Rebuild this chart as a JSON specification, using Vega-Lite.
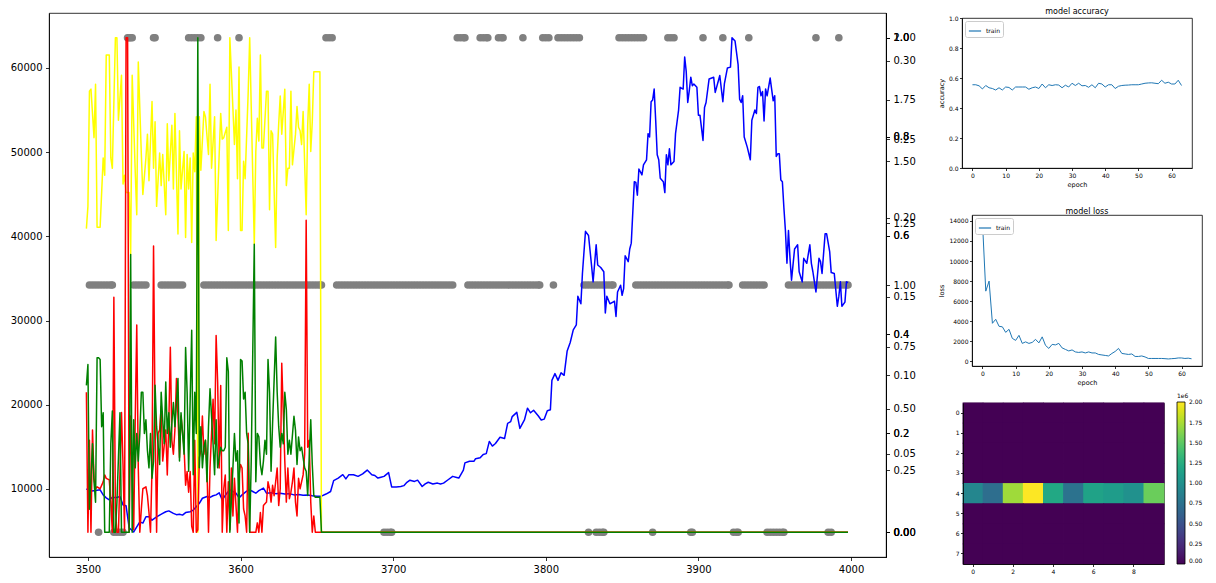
{
"$schema":"https://vega.github.io/schema/vega-lite/v6.json",
"padding":{"left":9,"top":7,"right":0,"bottom":0},
"background":"white",
"config":{
"font":"DejaVu Sans",
"view":{"stroke":"#000","strokeWidth":0.8},
"axis":{"grid":false,"labelFont":"DejaVu Sans","labelFontSize":10,"labelColor":"#000","tickColor":"#000","domainColor":"#000","tickSize":3.5,"labelPadding":3.5,"tickWidth":0.8,"domainWidth":0.8,"labelFlush":false,"labelOverlap":false,"titleFont":"DejaVu Sans","titleFontWeight":"normal","titleColor":"#000","titleFontSize":6.5},
"title":{"font":"DejaVu Sans","fontWeight":"normal","fontSize":8,"color":"#000","offset":-1},
"legend":{"labelFont":"DejaVu Sans","titleFont":"DejaVu Sans","labelColor":"#000","titleColor":"#000","titleFontWeight":"normal"}
},
"datasets":{
"price":[{"x":3499,"p":10000},{"x":3502,"p":9750},{"x":3504,"p":9800},{"x":3506,"p":9850},{"x":3508,"p":9900},{"x":3510,"p":9300},{"x":3512,"p":8950},{"x":3514,"p":8700},{"x":3516,"p":9000},{"x":3519,"p":9000},{"x":3521,"p":9100},{"x":3523,"p":8100},{"x":3525,"p":8000},{"x":3527,"p":5400},{"x":3530,"p":4900},{"x":3532,"p":5500},{"x":3534,"p":6100},{"x":3536,"p":5950},{"x":3538,"p":6700},{"x":3540,"p":6700},{"x":3542,"p":6300},{"x":3545,"p":6700},{"x":3547,"p":6900},{"x":3549,"p":7100},{"x":3551,"p":7300},{"x":3553,"p":7400},{"x":3556,"p":7100},{"x":3558,"p":6950},{"x":3560,"p":7000},{"x":3562,"p":6900},{"x":3564,"p":7200},{"x":3567,"p":7300},{"x":3569,"p":7500},{"x":3571,"p":7900},{"x":3573,"p":8300},{"x":3575,"p":8900},{"x":3578,"p":9100},{"x":3580,"p":9000},{"x":3582,"p":9200},{"x":3584,"p":9300},{"x":3586,"p":9550},{"x":3588,"p":8700},{"x":3591,"p":9500},{"x":3593,"p":9900},{"x":3595,"p":9700},{"x":3597,"p":9500},{"x":3599,"p":8950},{"x":3601,"p":9300},{"x":3604,"p":9750},{"x":3606,"p":9900},{"x":3608,"p":9700},{"x":3610,"p":9500},{"x":3612,"p":9800},{"x":3615,"p":10100},{"x":3617,"p":9500},{"x":3620,"p":9550},{"x":3623,"p":9450},{"x":3626,"p":9500},{"x":3629,"p":9400},{"x":3632,"p":9450},{"x":3635,"p":9300},{"x":3638,"p":9350},{"x":3641,"p":9250},{"x":3644,"p":9300},{"x":3647,"p":9200},{"x":3650,"p":9150},{"x":3653,"p":9150},{"x":3656,"p":9400},{"x":3659,"p":9700},{"x":3661,"p":11000},{"x":3664,"p":11300},{"x":3667,"p":11700},{"x":3669,"p":11200},{"x":3671,"p":11700},{"x":3674,"p":11700},{"x":3677,"p":11500},{"x":3680,"p":11800},{"x":3683,"p":12250},{"x":3686,"p":11700},{"x":3688,"p":11600},{"x":3690,"p":11300},{"x":3692,"p":11400},{"x":3694,"p":11500},{"x":3697,"p":11950},{"x":3699,"p":10250},{"x":3702,"p":10250},{"x":3705,"p":10300},{"x":3707,"p":10400},{"x":3709,"p":10800},{"x":3711,"p":11050},{"x":3714,"p":10900},{"x":3716,"p":11050},{"x":3719,"p":10300},{"x":3721,"p":10600},{"x":3723,"p":10800},{"x":3726,"p":10600},{"x":3729,"p":10700},{"x":3731,"p":10600},{"x":3733,"p":10700},{"x":3736,"p":11100},{"x":3739,"p":11500},{"x":3741,"p":11400},{"x":3743,"p":11300},{"x":3746,"p":12250},{"x":3747,"p":13100},{"x":3750,"p":13300},{"x":3753,"p":13300},{"x":3754,"p":13600},{"x":3757,"p":13700},{"x":3759,"p":14100},{"x":3761,"p":14200},{"x":3763,"p":15650},{"x":3765,"p":15100},{"x":3767,"p":15400},{"x":3770,"p":16150},{"x":3773,"p":16000},{"x":3775,"p":17800},{"x":3777,"p":18000},{"x":3778,"p":18600},{"x":3781,"p":19100},{"x":3783,"p":17200},{"x":3786,"p":18200},{"x":3788,"p":19600},{"x":3790,"p":19050},{"x":3792,"p":19350},{"x":3795,"p":18700},{"x":3797,"p":18200},{"x":3799,"p":18300},{"x":3801,"p":19300},{"x":3803,"p":19400},{"x":3804,"p":22900},{"x":3806,"p":23700},{"x":3808,"p":22900},{"x":3810,"p":23800},{"x":3812,"p":23500},{"x":3814,"p":26400},{"x":3816,"p":27400},{"x":3818,"p":28900},{"x":3820,"p":29500},{"x":3821,"p":32900},{"x":3823,"p":32000},{"x":3824,"p":35600},{"x":3826,"p":40600},{"x":3828,"p":40100},{"x":3830,"p":36500},{"x":3831,"p":34600},{"x":3833,"p":39000},{"x":3834,"p":36600},{"x":3836,"p":36300},{"x":3838,"p":35800},{"x":3839,"p":30900},{"x":3840,"p":32900},{"x":3842,"p":32000},{"x":3844,"p":32200},{"x":3845,"p":32300},{"x":3846,"p":30500},{"x":3847,"p":33400},{"x":3849,"p":34200},{"x":3850,"p":33000},{"x":3851,"p":33800},{"x":3852,"p":37700},{"x":3854,"p":37000},{"x":3855,"p":38500},{"x":3856,"p":39200},{"x":3858,"p":46500},{"x":3859,"p":46400},{"x":3860,"p":44900},{"x":3861,"p":48000},{"x":3863,"p":47300},{"x":3864,"p":48500},{"x":3866,"p":49100},{"x":3867,"p":52200},{"x":3868,"p":51800},{"x":3869,"p":56000},{"x":3870,"p":56200},{"x":3871,"p":57500},{"x":3872,"p":53800},{"x":3873,"p":49700},{"x":3874,"p":49100},{"x":3875,"p":46900},{"x":3877,"p":46500},{"x":3878,"p":45200},{"x":3879,"p":49700},{"x":3880,"p":48500},{"x":3881,"p":50400},{"x":3882,"p":48500},{"x":3884,"p":48900},{"x":3885,"p":52200},{"x":3887,"p":55000},{"x":3888,"p":57700},{"x":3890,"p":57500},{"x":3891,"p":61300},{"x":3892,"p":59600},{"x":3893,"p":55900},{"x":3894,"p":57300},{"x":3895,"p":58900},{"x":3896,"p":57900},{"x":3897,"p":58100},{"x":3899,"p":57700},{"x":3900,"p":54400},{"x":3901,"p":54400},{"x":3903,"p":51400},{"x":3904,"p":55300},{"x":3905,"p":55900},{"x":3907,"p":58700},{"x":3910,"p":58900},{"x":3911,"p":57100},{"x":3914,"p":59100},{"x":3916,"p":56000},{"x":3917,"p":58100},{"x":3919,"p":60000},{"x":3921,"p":60100},{"x":3922,"p":63600},{"x":3924,"p":63200},{"x":3926,"p":60400},{"x":3927,"p":56300},{"x":3928,"p":55900},{"x":3929,"p":56700},{"x":3930,"p":51800},{"x":3932,"p":50600},{"x":3934,"p":49100},{"x":3935,"p":53800},{"x":3937,"p":55000},{"x":3938,"p":54600},{"x":3939,"p":57700},{"x":3940,"p":57800},{"x":3941,"p":56700},{"x":3942,"p":57200},{"x":3943,"p":53700},{"x":3944,"p":57500},{"x":3945,"p":56700},{"x":3947,"p":58800},{"x":3949,"p":56100},{"x":3950,"p":56700},{"x":3951,"p":49500},{"x":3952,"p":49800},{"x":3953,"p":49800},{"x":3954,"p":46700},{"x":3955,"p":46500},{"x":3956,"p":43400},{"x":3957,"p":40700},{"x":3958,"p":36800},{"x":3959,"p":40700},{"x":3960,"p":37400},{"x":3961,"p":34800},{"x":3963,"p":38500},{"x":3965,"p":39000},{"x":3966,"p":35800},{"x":3968,"p":34600},{"x":3969,"p":37400},{"x":3971,"p":36800},{"x":3973,"p":39000},{"x":3974,"p":36800},{"x":3975,"p":35800},{"x":3976,"p":34600},{"x":3977,"p":33400},{"x":3979,"p":37400},{"x":3980,"p":37000},{"x":3981,"p":35600},{"x":3983,"p":40300},{"x":3984,"p":40300},{"x":3986,"p":38200},{"x":3987,"p":35700},{"x":3989,"p":35600},{"x":3991,"p":31700},{"x":3992,"p":32900},{"x":3993,"p":34600},{"x":3994,"p":31700},{"x":3996,"p":32200},{"x":3997,"p":34600},{"x":3998,"p":34500}],
"yel":[{"x":3499,"v":0.614},{"x":3500,"v":0.659},{"x":3501,"v":0.892},{"x":3502,"v":0.896},{"x":3504,"v":0.798},{"x":3505,"v":0.906},{"x":3506,"v":0.617},{"x":3508,"v":0.617},{"x":3510,"v":0.757},{"x":3511,"v":0.722},{"x":3512,"v":0.965},{"x":3514,"v":0.965},{"x":3515,"v":0.757},{"x":3516,"v":0.736},{"x":3518,"v":1.0},{"x":3519,"v":1.0},{"x":3520,"v":0.833},{"x":3522,"v":0.924},{"x":3523,"v":0.704},{"x":3524,"v":0.722},{"x":3525,"v":0.687},{"x":3527,"v":0.687},{"x":3528,"v":0.562},{"x":3529,"v":0.924},{"x":3531,"v":0.729},{"x":3532,"v":0.642},{"x":3533,"v":0.951},{"x":3535,"v":0.764},{"x":3536,"v":0.683},{"x":3538,"v":0.757},{"x":3539,"v":0.805},{"x":3540,"v":0.711},{"x":3542,"v":0.871},{"x":3543,"v":0.736},{"x":3544,"v":0.83},{"x":3545,"v":0.659},{"x":3547,"v":0.767},{"x":3548,"v":0.701},{"x":3549,"v":0.764},{"x":3551,"v":0.642},{"x":3552,"v":0.826},{"x":3553,"v":0.711},{"x":3555,"v":0.823},{"x":3556,"v":0.694},{"x":3557,"v":0.847},{"x":3559,"v":0.603},{"x":3560,"v":0.812},{"x":3561,"v":0.694},{"x":3563,"v":0.77},{"x":3564,"v":0.596},{"x":3565,"v":0.764},{"x":3566,"v":0.694},{"x":3567,"v":0.757},{"x":3568,"v":0.586},{"x":3569,"v":0.767},{"x":3570,"v":0.729},{"x":3571,"v":0.84},{"x":3572,"v":0},{"x":3573,"v":0.84},{"x":3574,"v":0.732},{"x":3576,"v":0.851},{"x":3577,"v":0.84},{"x":3579,"v":0.764},{"x":3580,"v":0.906},{"x":3581,"v":0.736},{"x":3583,"v":0.84},{"x":3584,"v":0.59},{"x":3586,"v":0.764},{"x":3587,"v":0.847},{"x":3588,"v":0.795},{"x":3589,"v":0.798},{"x":3591,"v":0.819},{"x":3592,"v":0.61},{"x":3593,"v":1.0},{"x":3595,"v":0.857},{"x":3596,"v":0.784},{"x":3597,"v":0.854},{"x":3598,"v":0.715},{"x":3599,"v":0.941},{"x":3600,"v":0.61},{"x":3601,"v":0.61},{"x":3602,"v":0.75},{"x":3603,"v":0.715},{"x":3605,"v":0.889},{"x":3606,"v":1.0},{"x":3607,"v":0.861},{"x":3609,"v":0.583},{"x":3610,"v":0.77},{"x":3611,"v":0.837},{"x":3612,"v":0.791},{"x":3613,"v":0.965},{"x":3614,"v":0.777},{"x":3615,"v":0.777},{"x":3617,"v":0.892},{"x":3618,"v":0.892},{"x":3619,"v":0.652},{"x":3620,"v":0.812},{"x":3621,"v":0.805},{"x":3623,"v":0.576},{"x":3624,"v":0.757},{"x":3625,"v":0.826},{"x":3626,"v":0.882},{"x":3627,"v":0.805},{"x":3629,"v":0.896},{"x":3630,"v":0.701},{"x":3631,"v":0.736},{"x":3632,"v":0.736},{"x":3633,"v":0.892},{"x":3634,"v":0.743},{"x":3636,"v":0.805},{"x":3637,"v":0.861},{"x":3638,"v":0.819},{"x":3639,"v":0.812},{"x":3640,"v":0.784},{"x":3641,"v":0.851},{"x":3643,"v":0.642},{"x":3644,"v":0.823},{"x":3645,"v":0.906},{"x":3646,"v":0.77},{"x":3647,"v":0.83},{"x":3648,"v":0.931},{"x":3649,"v":0.931},{"x":3650,"v":0.931},{"x":3651,"v":0.931},{"x":3652,"v":0.931},{"x":3653,"v":0},{"x":3998,"v":0}],
"red":[{"x":3499,"v":0.283},{"x":3500,"v":0},{"x":3501,"v":0.186},{"x":3502,"v":0},{"x":3503,"v":0.207},{"x":3504,"v":0.109},{"x":3505,"v":0.088},{"x":3506,"v":0.092},{"x":3508,"v":0.088},{"x":3510,"v":0.102},{"x":3511,"v":0.116},{"x":3512,"v":0.109},{"x":3514,"v":0.106},{"x":3515,"v":0.061},{"x":3516,"v":0},{"x":3517,"v":0.475},{"x":3518,"v":0.047},{"x":3519,"v":0},{"x":3520,"v":0},{"x":3522,"v":0.242},{"x":3523,"v":0.137},{"x":3524,"v":0},{"x":3525,"v":1.0},{"x":3526,"v":1.0},{"x":3527,"v":0},{"x":3528,"v":0.235},{"x":3530,"v":0.005},{"x":3531,"v":0.228},{"x":3532,"v":0.419},{"x":3533,"v":0.13},{"x":3534,"v":0},{"x":3535,"v":0.047},{"x":3536,"v":0.088},{"x":3538,"v":0.092},{"x":3539,"v":0.074},{"x":3540,"v":0.04},{"x":3541,"v":0},{"x":3542,"v":0.13},{"x":3543,"v":0.579},{"x":3544,"v":0.228},{"x":3545,"v":0},{"x":3546,"v":0.2},{"x":3547,"v":0.207},{"x":3548,"v":0.255},{"x":3549,"v":0.144},{"x":3551,"v":0.207},{"x":3552,"v":0.116},{"x":3553,"v":0.221},{"x":3554,"v":0.374},{"x":3555,"v":0.186},{"x":3556,"v":0.158},{"x":3557,"v":0.207},{"x":3558,"v":0.311},{"x":3559,"v":0.235},{"x":3560,"v":0.151},{"x":3561,"v":0.235},{"x":3563,"v":0.172},{"x":3564,"v":0.095},{"x":3565,"v":0.123},{"x":3566,"v":0.081},{"x":3567,"v":0.123},{"x":3568,"v":0.012},{"x":3569,"v":0},{"x":3570,"v":0.186},{"x":3571,"v":0},{"x":3572,"v":0.005},{"x":3573,"v":0.151},{"x":3574,"v":0.165},{"x":3575,"v":0.235},{"x":3576,"v":0.158},{"x":3577,"v":0.186},{"x":3578,"v":0.13},{"x":3579,"v":0},{"x":3580,"v":0.13},{"x":3582,"v":0.269},{"x":3583,"v":0.179},{"x":3584,"v":0.398},{"x":3585,"v":0.304},{"x":3586,"v":0.13},{"x":3587,"v":0.297},{"x":3588,"v":0},{"x":3589,"v":0.088},{"x":3590,"v":0.116},{"x":3591,"v":0},{"x":3592,"v":0.102},{"x":3593,"v":0.005},{"x":3594,"v":0.13},{"x":3595,"v":0.033},{"x":3596,"v":0.109},{"x":3598,"v":0},{"x":3599,"v":0.116},{"x":3600,"v":0.137},{"x":3601,"v":0.13},{"x":3602,"v":0.047},{"x":3603,"v":0.033},{"x":3604,"v":0},{"x":3605,"v":0.2},{"x":3606,"v":0},{"x":3607,"v":0},{"x":3609,"v":0},{"x":3610,"v":0},{"x":3611,"v":0.019},{"x":3612,"v":0},{"x":3613,"v":0.04},{"x":3614,"v":0},{"x":3615,"v":0.054},{"x":3617,"v":0.061},{"x":3618,"v":0.102},{"x":3619,"v":0.088},{"x":3620,"v":0.061},{"x":3621,"v":0.095},{"x":3622,"v":0.074},{"x":3623,"v":0.102},{"x":3624,"v":0.13},{"x":3625,"v":0.054},{"x":3626,"v":0.088},{"x":3627,"v":0.342},{"x":3629,"v":0.144},{"x":3630,"v":0.061},{"x":3631,"v":0.13},{"x":3632,"v":0.068},{"x":3633,"v":0.081},{"x":3634,"v":0.102},{"x":3635,"v":0.13},{"x":3636,"v":0.061},{"x":3637,"v":0.033},{"x":3638,"v":0.109},{"x":3639,"v":0.088},{"x":3641,"v":0.116},{"x":3642,"v":0.158},{"x":3643,"v":0.631},{"x":3644,"v":0.172},{"x":3645,"v":0.186},{"x":3646,"v":0.061},{"x":3647,"v":0},{"x":3648,"v":0.033},{"x":3649,"v":0},{"x":3998,"v":0}],
"grn":[{"x":3499,"v":0.0935},{"x":3500,"v":0.1067},{"x":3501,"v":0.0147},{"x":3502,"v":0.0344},{"x":3503,"v":0.0563},{"x":3504,"v":0.0322},{"x":3505,"v":0.0191},{"x":3506,"v":0.111},{"x":3507,"v":0.111},{"x":3508,"v":0.11},{"x":3509,"v":0.0672},{"x":3510,"v":0.076},{"x":3511,"v":0},{"x":3513,"v":0},{"x":3514,"v":0},{"x":3515,"v":0.0563},{"x":3516,"v":0.0771},{"x":3517,"v":0},{"x":3518,"v":0},{"x":3519,"v":0.0191},{"x":3520,"v":0.0475},{"x":3521,"v":0.076},{"x":3522,"v":0},{"x":3524,"v":0},{"x":3525,"v":0},{"x":3526,"v":0},{"x":3527,"v":0},{"x":3528,"v":0.1767},{"x":3529,"v":0},{"x":3530,"v":0.0716},{"x":3531,"v":0.041},{"x":3532,"v":0.0629},{"x":3533,"v":0.0453},{"x":3534,"v":0.0629},{"x":3535,"v":0.0891},{"x":3536,"v":0.0891},{"x":3537,"v":0.0629},{"x":3538,"v":0.0716},{"x":3539,"v":0.0519},{"x":3540,"v":0.041},{"x":3541,"v":0.0629},{"x":3542,"v":0.0344},{"x":3543,"v":0.0453},{"x":3544,"v":0.0935},{"x":3545,"v":0.0672},{"x":3547,"v":0.0431},{"x":3548,"v":0.0891},{"x":3549,"v":0.0716},{"x":3550,"v":0.0563},{"x":3551,"v":0.0957},{"x":3552,"v":0.0629},{"x":3553,"v":0.076},{"x":3554,"v":0.0541},{"x":3555,"v":0.0694},{"x":3556,"v":0.0826},{"x":3557,"v":0.0672},{"x":3559,"v":0.0979},{"x":3560,"v":0.0453},{"x":3561,"v":0.076},{"x":3562,"v":0.0629},{"x":3563,"v":0.0497},{"x":3564,"v":0.1176},{"x":3565,"v":0.0891},{"x":3566,"v":0.0388},{"x":3567,"v":0.0848},{"x":3568,"v":0.1286},{"x":3569,"v":0.0366},{"x":3570,"v":0.0891},{"x":3571,"v":0.0629},{"x":3572,"v":0.3147},{"x":3573,"v":0.041},{"x":3574,"v":0.0672},{"x":3575,"v":0.041},{"x":3576,"v":0.0541},{"x":3577,"v":0.0585},{"x":3578,"v":0.0322},{"x":3579,"v":0.0672},{"x":3580,"v":0.0913},{"x":3582,"v":0.0563},{"x":3583,"v":0.0366},{"x":3584,"v":0.0716},{"x":3585,"v":0.041},{"x":3586,"v":0.0475},{"x":3587,"v":0.0541},{"x":3588,"v":0.0519},{"x":3589,"v":0.0519},{"x":3590,"v":0.0541},{"x":3591,"v":0.111},{"x":3592,"v":0.1023},{"x":3593,"v":0},{"x":3595,"v":0.041},{"x":3596,"v":0.0629},{"x":3597,"v":0.0453},{"x":3598,"v":0.0519},{"x":3599,"v":0.0059},{"x":3600,"v":0.11},{"x":3601,"v":0.109},{"x":3602,"v":0.0848},{"x":3603,"v":0.0891},{"x":3604,"v":0.0629},{"x":3605,"v":0.0563},{"x":3606,"v":0},{"x":3607,"v":0.0453},{"x":3609,"v":0.1833},{"x":3610,"v":0.0322},{"x":3611,"v":0.0629},{"x":3612,"v":0.0607},{"x":3613,"v":0.0431},{"x":3614,"v":0.0366},{"x":3615,"v":0.0453},{"x":3616,"v":0.0585},{"x":3617,"v":0.0497},{"x":3618,"v":0.11},{"x":3619,"v":0.0891},{"x":3620,"v":0.0388},{"x":3621,"v":0.0694},{"x":3623,"v":0.1242},{"x":3624,"v":0.0891},{"x":3625,"v":0.0672},{"x":3626,"v":0.0541},{"x":3627,"v":0.0629},{"x":3628,"v":0.0563},{"x":3629,"v":0.0891},{"x":3630,"v":0.0782},{"x":3631,"v":0.0497},{"x":3632,"v":0.0585},{"x":3633,"v":0.0497},{"x":3635,"v":0.0738},{"x":3636,"v":0.065},{"x":3637,"v":0.0431},{"x":3638,"v":0.0607},{"x":3639,"v":0.0519},{"x":3640,"v":0.0541},{"x":3641,"v":0.0475},{"x":3642,"v":0.041},{"x":3643,"v":0.0388},{"x":3644,"v":0.0234},{"x":3646,"v":0.0716},{"x":3647,"v":0.0431},{"x":3648,"v":0.0234},{"x":3649,"v":0.0223},{"x":3650,"v":0.0223},{"x":3651,"v":0.0223},{"x":3652,"v":0.0223},{"x":3653,"v":0},{"x":3998,"v":0}],
"act":[{"x":3526,"a":2},{"x":3527,"a":2},{"x":3528,"a":2},{"x":3529,"a":2},{"x":3543,"a":2},{"x":3544,"a":2},{"x":3566,"a":2},{"x":3568,"a":2},{"x":3570,"a":2},{"x":3572,"a":2},{"x":3574,"a":2},{"x":3585,"a":2},{"x":3599,"a":2},{"x":3656,"a":2},{"x":3658,"a":2},{"x":3660,"a":2},{"x":3742,"a":2},{"x":3744,"a":2},{"x":3746,"a":2},{"x":3747,"a":2},{"x":3757,"a":2},{"x":3759,"a":2},{"x":3761,"a":2},{"x":3762,"a":2},{"x":3769,"a":2},{"x":3771,"a":2},{"x":3772,"a":2},{"x":3785,"a":2},{"x":3798,"a":2},{"x":3800,"a":2},{"x":3802,"a":2},{"x":3808,"a":2},{"x":3810,"a":2},{"x":3812,"a":2},{"x":3814,"a":2},{"x":3816,"a":2},{"x":3818,"a":2},{"x":3820,"a":2},{"x":3822,"a":2},{"x":3848,"a":2},{"x":3850,"a":2},{"x":3852,"a":2},{"x":3854,"a":2},{"x":3856,"a":2},{"x":3858,"a":2},{"x":3860,"a":2},{"x":3862,"a":2},{"x":3864,"a":2},{"x":3880,"a":2},{"x":3882,"a":2},{"x":3884,"a":2},{"x":3903,"a":2},{"x":3916,"a":2},{"x":3933,"a":2},{"x":3977,"a":2},{"x":3992,"a":2},
{"x":3507,"a":0},{"x":3517,"a":0},{"x":3519,"a":0},{"x":3521,"a":0},{"x":3523,"a":0},{"x":3694,"a":0},{"x":3696,"a":0},{"x":3698,"a":0},{"x":3699,"a":0},{"x":3828,"a":0},{"x":3833,"a":0},{"x":3835,"a":0},{"x":3837,"a":0},{"x":3838,"a":0},{"x":3870,"a":0},{"x":3895,"a":0},{"x":3896,"a":0},{"x":3923,"a":0},{"x":3925,"a":0},{"x":3926,"a":0},{"x":3945,"a":0},{"x":3947,"a":0},{"x":3949,"a":0},{"x":3951,"a":0},{"x":3953,"a":0},{"x":3955,"a":0},{"x":3956,"a":0},{"x":3985,"a":0},{"x":3987,"a":0},
{"x":3501,"a":1},{"x":3503,"a":1},{"x":3505,"a":1},{"x":3507,"a":1},{"x":3509,"a":1},{"x":3511,"a":1},{"x":3513,"a":1},{"x":3515,"a":1},{"x":3516,"a":1},{"x":3530,"a":1},{"x":3532,"a":1},{"x":3534,"a":1},{"x":3536,"a":1},{"x":3538,"a":1},{"x":3548,"a":1},{"x":3550,"a":1},{"x":3552,"a":1},{"x":3554,"a":1},{"x":3556,"a":1},{"x":3558,"a":1},{"x":3560,"a":1},{"x":3562,"a":1},{"x":3576,"a":1},{"x":3578,"a":1},{"x":3580,"a":1},{"x":3582,"a":1},{"x":3584,"a":1},{"x":3586,"a":1},{"x":3588,"a":1},{"x":3590,"a":1},{"x":3592,"a":1},{"x":3594,"a":1},{"x":3596,"a":1},{"x":3598,"a":1},{"x":3600,"a":1},{"x":3602,"a":1},{"x":3604,"a":1},{"x":3606,"a":1},{"x":3608,"a":1},{"x":3610,"a":1},{"x":3612,"a":1},{"x":3614,"a":1},{"x":3616,"a":1},{"x":3618,"a":1},{"x":3620,"a":1},{"x":3622,"a":1},{"x":3624,"a":1},{"x":3626,"a":1},{"x":3628,"a":1},{"x":3630,"a":1},{"x":3632,"a":1},{"x":3634,"a":1},{"x":3636,"a":1},{"x":3638,"a":1},{"x":3640,"a":1},{"x":3642,"a":1},{"x":3644,"a":1},{"x":3646,"a":1},{"x":3648,"a":1},{"x":3650,"a":1},{"x":3652,"a":1},{"x":3653,"a":1},{"x":3663,"a":1},{"x":3665,"a":1},{"x":3667,"a":1},{"x":3669,"a":1},{"x":3671,"a":1},{"x":3673,"a":1},{"x":3675,"a":1},{"x":3677,"a":1},{"x":3679,"a":1},{"x":3681,"a":1},{"x":3683,"a":1},{"x":3685,"a":1},{"x":3687,"a":1},{"x":3689,"a":1},{"x":3691,"a":1},{"x":3693,"a":1},{"x":3695,"a":1},{"x":3697,"a":1},{"x":3699,"a":1},{"x":3701,"a":1},{"x":3703,"a":1},{"x":3705,"a":1},{"x":3707,"a":1},{"x":3709,"a":1},{"x":3711,"a":1},{"x":3713,"a":1},{"x":3715,"a":1},{"x":3717,"a":1},{"x":3719,"a":1},{"x":3721,"a":1},{"x":3723,"a":1},{"x":3725,"a":1},{"x":3727,"a":1},{"x":3729,"a":1},{"x":3731,"a":1},{"x":3733,"a":1},{"x":3735,"a":1},{"x":3737,"a":1},{"x":3739,"a":1},{"x":3749,"a":1},{"x":3751,"a":1},{"x":3753,"a":1},{"x":3755,"a":1},{"x":3757,"a":1},{"x":3759,"a":1},{"x":3761,"a":1},{"x":3763,"a":1},{"x":3765,"a":1},{"x":3767,"a":1},{"x":3769,"a":1},{"x":3771,"a":1},{"x":3773,"a":1},{"x":3775,"a":1},{"x":3777,"a":1},{"x":3779,"a":1},{"x":3781,"a":1},{"x":3783,"a":1},{"x":3785,"a":1},{"x":3787,"a":1},{"x":3789,"a":1},{"x":3791,"a":1},{"x":3793,"a":1},{"x":3795,"a":1},{"x":3796,"a":1},{"x":3805,"a":1},{"x":3825,"a":1},{"x":3827,"a":1},{"x":3829,"a":1},{"x":3831,"a":1},{"x":3833,"a":1},{"x":3835,"a":1},{"x":3837,"a":1},{"x":3839,"a":1},{"x":3841,"a":1},{"x":3843,"a":1},{"x":3844,"a":1},{"x":3859,"a":1},{"x":3861,"a":1},{"x":3863,"a":1},{"x":3865,"a":1},{"x":3867,"a":1},{"x":3869,"a":1},{"x":3871,"a":1},{"x":3873,"a":1},{"x":3875,"a":1},{"x":3877,"a":1},{"x":3879,"a":1},{"x":3881,"a":1},{"x":3883,"a":1},{"x":3885,"a":1},{"x":3887,"a":1},{"x":3889,"a":1},{"x":3891,"a":1},{"x":3893,"a":1},{"x":3895,"a":1},{"x":3897,"a":1},{"x":3899,"a":1},{"x":3901,"a":1},{"x":3903,"a":1},{"x":3905,"a":1},{"x":3907,"a":1},{"x":3909,"a":1},{"x":3911,"a":1},{"x":3913,"a":1},{"x":3915,"a":1},{"x":3917,"a":1},{"x":3919,"a":1},{"x":3920,"a":1},{"x":3929,"a":1},{"x":3931,"a":1},{"x":3933,"a":1},{"x":3935,"a":1},{"x":3937,"a":1},{"x":3939,"a":1},{"x":3941,"a":1},{"x":3943,"a":1},{"x":3959,"a":1},{"x":3961,"a":1},{"x":3963,"a":1},{"x":3965,"a":1},{"x":3967,"a":1},{"x":3969,"a":1},{"x":3971,"a":1},{"x":3973,"a":1},{"x":3975,"a":1},{"x":3977,"a":1},{"x":3979,"a":1},{"x":3981,"a":1},{"x":3983,"a":1},{"x":3985,"a":1},{"x":3987,"a":1},{"x":3989,"a":1},{"x":3991,"a":1},{"x":3993,"a":1},{"x":3995,"a":1},{"x":3997,"a":1},{"x":3998,"a":1}],
"acc":[{"epoch":0,"accuracy":0.555},{"epoch":1,"accuracy":0.555},{"epoch":2,"accuracy":0.548},{"epoch":3,"accuracy":0.527},{"epoch":4,"accuracy":0.55},{"epoch":5,"accuracy":0.535},{"epoch":6,"accuracy":0.53},{"epoch":7,"accuracy":0.52},{"epoch":8,"accuracy":0.535},{"epoch":9,"accuracy":0.52},{"epoch":10,"accuracy":0.54},{"epoch":11,"accuracy":0.537},{"epoch":12,"accuracy":0.52},{"epoch":13,"accuracy":0.54},{"epoch":14,"accuracy":0.54},{"epoch":15,"accuracy":0.54},{"epoch":16,"accuracy":0.54},{"epoch":17,"accuracy":0.525},{"epoch":18,"accuracy":0.535},{"epoch":19,"accuracy":0.54},{"epoch":20,"accuracy":0.53},{"epoch":21,"accuracy":0.56},{"epoch":22,"accuracy":0.535},{"epoch":23,"accuracy":0.555},{"epoch":24,"accuracy":0.55},{"epoch":25,"accuracy":0.555},{"epoch":26,"accuracy":0.553},{"epoch":27,"accuracy":0.535},{"epoch":28,"accuracy":0.552},{"epoch":29,"accuracy":0.54},{"epoch":30,"accuracy":0.565},{"epoch":31,"accuracy":0.55},{"epoch":32,"accuracy":0.565},{"epoch":33,"accuracy":0.548},{"epoch":34,"accuracy":0.55},{"epoch":35,"accuracy":0.538},{"epoch":36,"accuracy":0.555},{"epoch":37,"accuracy":0.535},{"epoch":38,"accuracy":0.565},{"epoch":39,"accuracy":0.56},{"epoch":40,"accuracy":0.54},{"epoch":41,"accuracy":0.555},{"epoch":42,"accuracy":0.555},{"epoch":43,"accuracy":0.53},{"epoch":44,"accuracy":0.545},{"epoch":45,"accuracy":0.55},{"epoch":46,"accuracy":0.552},{"epoch":47,"accuracy":0.553},{"epoch":48,"accuracy":0.555},{"epoch":49,"accuracy":0.555},{"epoch":50,"accuracy":0.555},{"epoch":51,"accuracy":0.56},{"epoch":52,"accuracy":0.565},{"epoch":53,"accuracy":0.567},{"epoch":54,"accuracy":0.568},{"epoch":55,"accuracy":0.565},{"epoch":56,"accuracy":0.562},{"epoch":57,"accuracy":0.585},{"epoch":58,"accuracy":0.565},{"epoch":59,"accuracy":0.572},{"epoch":60,"accuracy":0.56},{"epoch":61,"accuracy":0.56},{"epoch":62,"accuracy":0.585},{"epoch":63,"accuracy":0.55}],
"loss":[{"epoch":0,"loss":13900},{"epoch":1,"loss":7000},{"epoch":2,"loss":8000},{"epoch":3,"loss":3800},{"epoch":4,"loss":4200},{"epoch":5,"loss":3500},{"epoch":6,"loss":3450},{"epoch":7,"loss":2900},{"epoch":8,"loss":3200},{"epoch":9,"loss":2300},{"epoch":10,"loss":2100},{"epoch":11,"loss":2600},{"epoch":12,"loss":1800},{"epoch":13,"loss":1950},{"epoch":14,"loss":1800},{"epoch":15,"loss":1900},{"epoch":16,"loss":2200},{"epoch":17,"loss":1850},{"epoch":18,"loss":2450},{"epoch":19,"loss":1600},{"epoch":20,"loss":1300},{"epoch":21,"loss":1700},{"epoch":22,"loss":1650},{"epoch":23,"loss":1800},{"epoch":24,"loss":1350},{"epoch":25,"loss":1200},{"epoch":26,"loss":1050},{"epoch":27,"loss":1150},{"epoch":28,"loss":950},{"epoch":29,"loss":900},{"epoch":30,"loss":950},{"epoch":31,"loss":850},{"epoch":32,"loss":950},{"epoch":33,"loss":850},{"epoch":34,"loss":850},{"epoch":35,"loss":700},{"epoch":36,"loss":650},{"epoch":37,"loss":600},{"epoch":38,"loss":550},{"epoch":39,"loss":800},{"epoch":40,"loss":1000},{"epoch":41,"loss":1300},{"epoch":42,"loss":800},{"epoch":43,"loss":750},{"epoch":44,"loss":700},{"epoch":45,"loss":750},{"epoch":46,"loss":500},{"epoch":47,"loss":500},{"epoch":48,"loss":550},{"epoch":49,"loss":450},{"epoch":50,"loss":300},{"epoch":51,"loss":300},{"epoch":52,"loss":300},{"epoch":53,"loss":300},{"epoch":54,"loss":300},{"epoch":55,"loss":280},{"epoch":56,"loss":250},{"epoch":57,"loss":280},{"epoch":58,"loss":300},{"epoch":59,"loss":350},{"epoch":60,"loss":350},{"epoch":61,"loss":300},{"epoch":62,"loss":330},{"epoch":63,"loss":270}],
"heat":[{"r":0,"c":0,"v":0},{"r":0,"c":1,"v":0},{"r":0,"c":2,"v":0},{"r":0,"c":3,"v":0},{"r":0,"c":4,"v":0},{"r":0,"c":5,"v":0},{"r":0,"c":6,"v":0},{"r":0,"c":7,"v":0},{"r":0,"c":8,"v":0},{"r":0,"c":9,"v":0},{"r":1,"c":0,"v":0},{"r":1,"c":1,"v":0},{"r":1,"c":2,"v":0},{"r":1,"c":3,"v":0},{"r":1,"c":4,"v":0},{"r":1,"c":5,"v":0},{"r":1,"c":6,"v":0},{"r":1,"c":7,"v":0},{"r":1,"c":8,"v":0},{"r":1,"c":9,"v":0},{"r":2,"c":0,"v":0},{"r":2,"c":1,"v":0},{"r":2,"c":2,"v":0},{"r":2,"c":3,"v":0},{"r":2,"c":4,"v":0},{"r":2,"c":5,"v":0},{"r":2,"c":6,"v":0},{"r":2,"c":7,"v":0},{"r":2,"c":8,"v":0},{"r":2,"c":9,"v":0},{"r":3,"c":0,"v":0},{"r":3,"c":1,"v":0},{"r":3,"c":2,"v":0},{"r":3,"c":3,"v":0},{"r":3,"c":4,"v":0},{"r":3,"c":5,"v":0},{"r":3,"c":6,"v":0},{"r":3,"c":7,"v":0},{"r":3,"c":8,"v":0},{"r":3,"c":9,"v":0},{"r":4,"c":0,"v":920000},{"r":4,"c":1,"v":720000},{"r":4,"c":2,"v":1720000},{"r":4,"c":3,"v":2000000},{"r":4,"c":4,"v":1200000},{"r":4,"c":5,"v":750000},{"r":4,"c":6,"v":1150000},{"r":4,"c":7,"v":1100000},{"r":4,"c":8,"v":1000000},{"r":4,"c":9,"v":1550000},{"r":5,"c":0,"v":0},{"r":5,"c":1,"v":0},{"r":5,"c":2,"v":0},{"r":5,"c":3,"v":0},{"r":5,"c":4,"v":0},{"r":5,"c":5,"v":0},{"r":5,"c":6,"v":0},{"r":5,"c":7,"v":0},{"r":5,"c":8,"v":0},{"r":5,"c":9,"v":0},{"r":6,"c":0,"v":0},{"r":6,"c":1,"v":0},{"r":6,"c":2,"v":0},{"r":6,"c":3,"v":0},{"r":6,"c":4,"v":0},{"r":6,"c":5,"v":0},{"r":6,"c":6,"v":0},{"r":6,"c":7,"v":0},{"r":6,"c":8,"v":0},{"r":6,"c":9,"v":0},{"r":7,"c":0,"v":0},{"r":7,"c":1,"v":0},{"r":7,"c":2,"v":0},{"r":7,"c":3,"v":0},{"r":7,"c":4,"v":0},{"r":7,"c":5,"v":0},{"r":7,"c":6,"v":0},{"r":7,"c":7,"v":0},{"r":7,"c":8,"v":0},{"r":7,"c":9,"v":0}],
"blank":[{"k":0}]
},
"spacing":20,
"resolve":{"scale":{"color":"independent"},"legend":{"color":"independent"}},
"hconcat":[
{
"width":837,"height":544,
"layer":[
{"data":{"name":"act"},"mark":{"type":"circle","size":58,"color":"#808080","opacity":1},
"encoding":{"x":{"field":"x","type":"quantitative","scale":{"domain":[3474.5,4022.9],"nice":false,"zero":false},"axis":{"values":[3500,3600,3700,3800,3900,4000],"format":"d","title":null}},
"y":{"field":"a","type":"quantitative","scale":{"domain":[-0.1,2.1],"nice":false,"zero":false},"axis":{"orient":"right","values":[0,0.25,0.5,0.75,1,1.25,1.5,1.75,2],"format":".2f","title":null}}}},
{"data":{"name":"price"},"mark":{"type":"line","color":"#0000ff","strokeWidth":1.5,"strokeJoin":"round"},
"encoding":{"x":{"field":"x","type":"quantitative","scale":{"domain":[3474.5,4022.9],"nice":false,"zero":false},"axis":{"values":[3500,3600,3700,3800,3900,4000],"format":"d","title":null}},
"y":{"field":"p","type":"quantitative","scale":{"domain":[1924,66530],"nice":false,"zero":false},"axis":{"orient":"left","values":[10000,20000,30000,40000,50000,60000],"format":"d","title":null}}}},
{"data":{"name":"yel"},"mark":{"type":"line","color":"#ffff00","strokeWidth":1.5,"strokeJoin":"round"},
"encoding":{"x":{"field":"x","type":"quantitative","scale":{"domain":[3474.5,4022.9],"nice":false,"zero":false},"axis":{"values":[3500,3600,3700,3800,3900,4000],"format":"d","title":null}},
"y":{"field":"v","type":"quantitative","scale":{"domain":[-0.05,1.05],"nice":false,"zero":false},"axis":{"orient":"right","values":[0,0.2,0.4,0.6,0.8,1],"format":".1f","title":null}}}},
{"data":{"name":"red"},"mark":{"type":"line","color":"#ff0000","strokeWidth":1.5,"strokeJoin":"round"},
"encoding":{"x":{"field":"x","type":"quantitative","scale":{"domain":[3474.5,4022.9],"nice":false,"zero":false},"axis":{"values":[3500,3600,3700,3800,3900,4000],"format":"d","title":null}},
"y":{"field":"v","type":"quantitative","scale":{"domain":[-0.05,1.05],"nice":false,"zero":false},"axis":{"orient":"right","values":[0,0.2,0.4,0.6,0.8,1],"format":".1f","title":null}}}},
{"data":{"name":"grn"},"mark":{"type":"line","color":"#008000","strokeWidth":1.5,"strokeJoin":"round"},
"encoding":{"x":{"field":"x","type":"quantitative","scale":{"domain":[3474.5,4022.9],"nice":false,"zero":false},"axis":{"values":[3500,3600,3700,3800,3900,4000],"format":"d","title":null}},
"y":{"field":"v","type":"quantitative","scale":{"domain":[-0.015735,0.330435],"nice":false,"zero":false},"axis":{"orient":"right","values":[0,0.05,0.1,0.15,0.2,0.25,0.3],"format":".2f","title":null}}}}
],
"resolve":{"scale":{"y":"independent"}}
},
{
"bounds":"flush",
"spacing":4,
"resolve":{"scale":{"color":"independent"},"legend":{"color":"independent"}},
"vconcat":[
{"width":1,"height":1,"view":{"stroke":null},"data":{"name":"blank"},"mark":{"type":"point","size":0,"opacity":0}},
{
"columns":2,
"align":"none",
"spacing":{"row":6,"column":0},
"resolve":{"scale":{"color":"independent"},"legend":{"color":"independent"}},
"concat":[
{"width":1,"height":1,"view":{"stroke":null},"data":{"name":"blank"},"mark":{"type":"point","size":0,"opacity":0}},
{
"columns":2,
"align":"none",
"spacing":{"row":19,"column":0},
"resolve":{"scale":{"color":"independent"},"legend":{"color":"independent"}},
"concat":[
{"width":1,"height":1,"view":{"stroke":null},"data":{"name":"blank"},"mark":{"type":"point","size":0,"opacity":0}},
{"width":230,"height":150,"title":"model accuracy","data":{"name":"acc"},
"mark":{"type":"line","strokeWidth":1,"strokeJoin":"round"},
"encoding":{
"x":{"field":"epoch","type":"quantitative","scale":{"domain":[-3.15,66.15],"nice":false,"zero":false},"axis":{"values":[0,10,20,30,40,50,60],"title":"epoch","labelFontSize":6,"tickSize":2.5,"labelPadding":1.5,"titlePadding":3,"titleFontSize":6.5}},
"y":{"field":"accuracy","type":"quantitative","scale":{"domain":[0,1],"nice":false,"zero":false},"axis":{"values":[0,0.2,0.4,0.6,0.8,1],"format":".1f","title":"accuracy","labelFontSize":6,"tickSize":2.5,"labelPadding":1.5,"titlePadding":4,"titleFontSize":6.5}},
"color":{"datum":"train","scale":{"range":["#1f77b4"]},"legend":{"orient":"top-left","offset":3,"padding":3,"strokeColor":"#cccccc","fillColor":"#ffffff","cornerRadius":2,"symbolType":"stroke","symbolSize":150,"symbolStrokeWidth":1.2,"labelFontSize":6,"title":null}}}},
{"width":1,"height":1,"view":{"stroke":null},"data":{"name":"blank"},"mark":{"type":"point","size":0,"opacity":0}},
{"width":230,"height":151,"title":"model loss","data":{"name":"loss"},
"mark":{"type":"line","strokeWidth":1,"strokeJoin":"round"},
"encoding":{
"x":{"field":"epoch","type":"quantitative","scale":{"domain":[-3.15,66.15],"nice":false,"zero":false},"axis":{"values":[0,10,20,30,40,50,60],"title":"epoch","labelFontSize":6,"tickSize":2.5,"labelPadding":1.5,"titlePadding":3,"titleFontSize":6.5}},
"y":{"field":"loss","type":"quantitative","scale":{"domain":[-450,14580],"nice":false,"zero":false},"axis":{"values":[0,2000,4000,6000,8000,10000,12000,14000],"format":"d","title":"loss","labelFontSize":6,"tickSize":2.5,"labelPadding":1.5,"titlePadding":4,"titleFontSize":6.5}},
"color":{"datum":"train","scale":{"range":["#1f77b4"]},"legend":{"orient":"top-left","offset":3,"padding":3,"strokeColor":"#cccccc","fillColor":"#ffffff","cornerRadius":2,"symbolType":"stroke","symbolSize":150,"symbolStrokeWidth":1.2,"labelFontSize":6,"title":null}}}}
]
},
{"width":1,"height":1,"view":{"stroke":null},"data":{"name":"blank"},"mark":{"type":"point","size":0,"opacity":0}},
{
"columns":2,
"align":"none",
"spacing":{"row":0,"column":0},
"resolve":{"scale":{"color":"independent"},"legend":{"color":"independent"}},
"concat":[
{"width":17,"height":1,"view":{"stroke":null},"data":{"name":"blank"},"mark":{"type":"point","size":0,"opacity":0}},
{"width":201,"height":161,"data":{"name":"heat"},
"mark":{"type":"rect","width":{"band":1.04},"height":{"band":1.04}},
"encoding":{
"x":{"field":"c","type":"ordinal","scale":{"paddingInner":0,"paddingOuter":0},"axis":{"values":[0,2,4,6,8],"labelAngle":0,"title":null,"labelFontSize":6,"tickSize":2.5,"labelPadding":1.5}},
"y":{"field":"r","type":"ordinal","scale":{"paddingInner":0,"paddingOuter":0},"axis":{"title":null,"labelFontSize":6,"tickSize":2.5,"labelPadding":1.5}},
"color":{"field":"v","type":"quantitative","scale":{"scheme":"viridis","domain":[0,2005000]},"legend":{"orient":"none","legendX":214,"legendY":-10,"direction":"vertical","gradientLength":162,"gradientThickness":8,"title":"1e6","titleFontSize":6,"titlePadding":3,"labelFontSize":6,"labelOffset":4,"values":[0,250000,500000,750000,1000000,1250000,1500000,1750000,2000000],"labelExpr":"format(datum.value/1000000,'.2f')","gradientStrokeColor":"#000","gradientStrokeWidth":0.8,"labelOverlap":false,"padding":0}}}}
]
}
]
}
]
}
]
}
